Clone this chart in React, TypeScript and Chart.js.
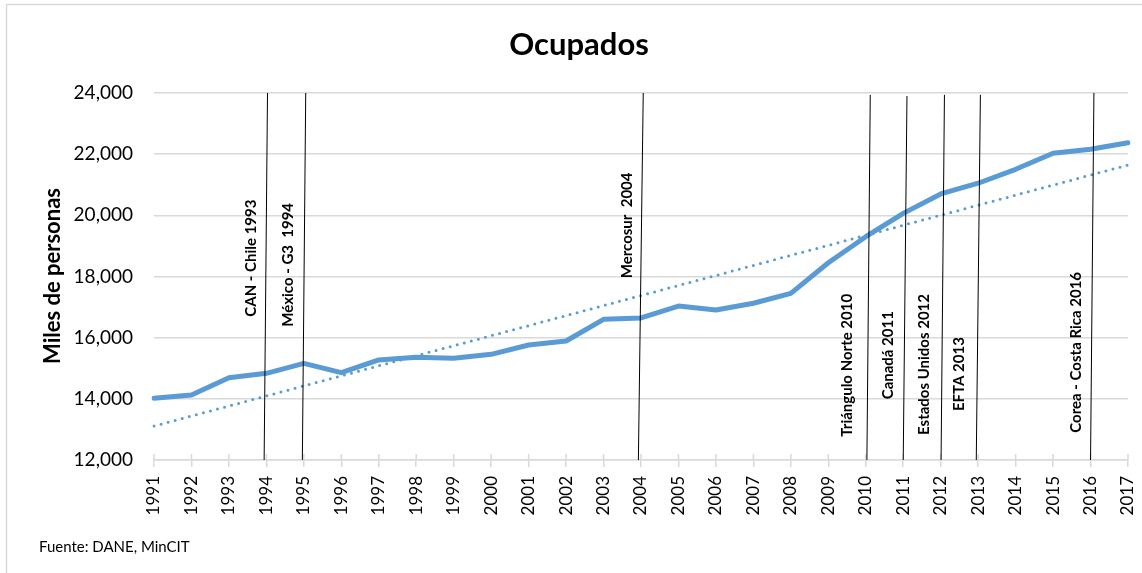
import React, { useEffect, useRef } from 'react';
import { Chart, registerables } from 'chart.js';

Chart.register(...registerables);

// ---------- data ----------
const years = [
  '1991', '1992', '1993', '1994', '1995', '1996', '1997', '1998', '1999',
  '2000', '2001', '2002', '2003', '2004', '2005', '2006', '2007', '2008',
  '2009', '2010', '2011', '2012', '2013', '2014', '2015', '2016', '2017',
];

const ocupados = [
  14020, 14125, 14690, 14835, 15160, 14855, 15270, 15360, 15325,
  15455, 15760, 15890, 16600, 16645, 17035, 16905, 17125, 17450,
  18450, 19300, 20065, 20700, 21050, 21505, 22030, 22160, 22375,
];

// linear trend line (first and last year)
const trendStart = 13110;
const trendEnd = 21645;

const yTicks = [12000, 14000, 16000, 18000, 20000, 22000, 24000];

const annotationTexts = [
  'CAN - Chile 1993',
  'México - G3  1994',
  'Mercosur  2004',
  'Triángulo Norte 2010',
  'Canadá 2011',
  'Estados Unidos 2012',
  'EFTA 2013',
  'Corea - Costa Rica 2016',
];
const annotationYears = [1994, 1995, 2004, 2010, 2011, 2012, 2013, 2016];

// ---------- annotation geometry (slight slant, label anchors) ----------
const lineBottomShift = [-0.06, -0.04, -0.07, 0.03, 0.0, 0.01, -0.05, 0.0];
const lineTopShift = [0.03, 0.05, 0.06, 0.12, 0.1, 0.1, 0.06, 0.09];
const lineTopValue = [24000, 24000, 24000, 23940, 23900, 23940, 23940, 24000];
const labelBaseValue = [16686, 16359, 17942, 12762, 13985, 12818, 13602, 12893];
const labelDx = [-15.5, -15.5, -14, -18.5, -15.5, -16.5, -19, -14];

const BLUE = '#5B9BD5';
const GRID = '#D9D9D9';
const FONT = 'Lato, "Open Sans", "Liberation Sans", sans-serif';

export default function App() {
  const canvasRef = useRef<HTMLCanvasElement | null>(null);

  useEffect(() => {
    const canvas = canvasRef.current;
    if (!canvas) return;

    const trendData = years.map((_, i) =>
      i === 0 ? trendStart : i === years.length - 1 ? trendEnd : null
    );

    const annotationDatasets = annotationYears.map((yr, i) => ({
      type: 'line' as const,
      label: annotationTexts[i],
      xAxisID: 'x2',
      data: [
        { x: yr + lineBottomShift[i], y: 12000 },
        { x: yr + lineTopShift[i], y: lineTopValue[i] },
      ],
      borderColor: '#000000',
      borderWidth: 1,
      pointRadius: 0,
      fill: false,
      order: 0,
    }));

    const decor = {
      id: 'decor',
      beforeDraw(chart: any) {
        const { ctx, width, height } = chart;
        ctx.save();
        ctx.fillStyle = '#ffffff';
        ctx.fillRect(0, 0, width, height);
        ctx.strokeStyle = GRID;
        ctx.lineWidth = 1.5;
        ctx.strokeRect(6.5, 4.5, width + 20, height + 20);
        ctx.restore();
      },
      beforeDatasetsDraw(chart: any) {
        const { ctx, chartArea } = chart;
        const xs = chart.scales.x;
        ctx.save();
        ctx.strokeStyle = GRID;
        ctx.lineWidth = 1.5;
        for (let i = 0; i < years.length; i++) {
          const x = xs.getPixelForTick(i);
          ctx.beginPath();
          ctx.moveTo(x, chartArea.bottom - 6);
          ctx.lineTo(x, chartArea.bottom);
          ctx.stroke();
        }
        ctx.restore();
      },
      afterDatasetsDraw(chart: any) {
        const { ctx } = chart;
        const x2 = chart.scales.x2;
        const ys = chart.scales.y;
        ctx.save();
        // annotation labels
        ctx.fillStyle = '#000000';
        ctx.font = `bold 15px ${FONT}`;
        ctx.textAlign = 'left';
        ctx.textBaseline = 'middle';
        annotationTexts.forEach((t, i) => {
          const cx = x2.getPixelForValue(annotationYears[i]) + labelDx[i];
          const cy = ys.getPixelForValue(labelBaseValue[i]);
          ctx.save();
          ctx.translate(cx, cy);
          ctx.rotate(-Math.PI / 2);
          ctx.fillText(t, 0, 0);
          ctx.restore();
        });

        // title
        ctx.font = `bold 31px ${FONT}`;
        ctx.textAlign = 'center';
        ctx.textBaseline = 'alphabetic';
        ctx.fillText('Ocupados', 579, 55);

        // y-axis title
        ctx.save();
        ctx.font = `bold 22px ${FONT}`;
        ctx.translate(53, 276);
        ctx.rotate(-Math.PI / 2);
        ctx.textAlign = 'center';
        ctx.textBaseline = 'middle';
        ctx.fillText('Miles de personas', 0, 0);
        ctx.restore();

        // source note
        ctx.font = `15px ${FONT}`;
        ctx.textAlign = 'left';
        ctx.textBaseline = 'middle';
        ctx.fillText('Fuente: DANE, MinCIT', 39, 547);
        ctx.restore();
      },
    };

    const chart = new Chart(canvas, {
      type: 'line',
      data: {
        labels: years,
        datasets: [
          {
            label: 'Ocupados',
            data: ocupados,
            borderColor: BLUE,
            backgroundColor: BLUE,
            borderWidth: 5,
            borderJoinStyle: 'round',
            borderCapStyle: 'round',
            pointRadius: 0,
            tension: 0,
            fill: false,
            order: 1,
          },
          {
            label: 'Tendencia',
            data: trendData,
            spanGaps: true,
            borderColor: BLUE,
            borderWidth: 3,
            borderDash: [0, 7.3],
            borderCapStyle: 'round',
            pointRadius: 0,
            fill: false,
            order: 2,
          },
          ...annotationDatasets,
        ] as any,
      },
      options: {
        animation: false,
        responsive: true,
        maintainAspectRatio: false,
        layout: { padding: { left: 0, top: 93, right: 0, bottom: 0 } },
        plugins: {
          legend: { display: false },
          title: { display: false },
          tooltip: { enabled: false },
        },
        scales: {
          x: {
            type: 'category',
            offset: false,
            grid: {
              drawOnChartArea: false,
              drawTicks: true,
              tickLength: 7,
              color: GRID,
              lineWidth: 1.5,
            },
            border: { display: true, color: GRID, width: 1.5 },
            ticks: {
              autoSkip: false,
              maxRotation: 90,
              minRotation: 90,
              padding: 9,
              color: '#000000',
              font: { family: FONT, size: 17 },
            },
            afterFit(scale: any) {
              scale.height = 113;
              scale.paddingLeft = 0;
              scale.paddingRight = 14;
            },
          },
          x2: {
            type: 'linear',
            display: false,
            min: 1991,
            max: 2017,
          },
          y: {
            min: 12000,
            max: 24000,
            afterBuildTicks(scale: any) {
              scale.ticks = yTicks.map((v) => ({ value: v }));
            },
            grid: { color: GRID, lineWidth: 1.5, drawTicks: false },
            border: { display: false },
            ticks: {
              padding: 21,
              color: '#000000',
              font: { family: FONT, size: 19 },
              callback: (v: any) => Number(v).toLocaleString('en-US'),
            },
            afterFit(scale: any) {
              scale.width = 154;
            },
          },
        },
      } as any,
      plugins: [decor],
    });

    if ((document as any).fonts && (document as any).fonts.ready) {
      (document as any).fonts.ready.then(() => {
        try { chart.update(); } catch (e) { /* destroyed */ }
      });
    }

    return () => chart.destroy();
  }, []);

  return (
    <div
      style={{
        position: 'fixed',
        left: 0,
        top: 0,
        width: 1142,
        height: 573,
        background: '#ffffff',
      }}
    >
      <canvas ref={canvasRef} />
    </div>
  );
}
